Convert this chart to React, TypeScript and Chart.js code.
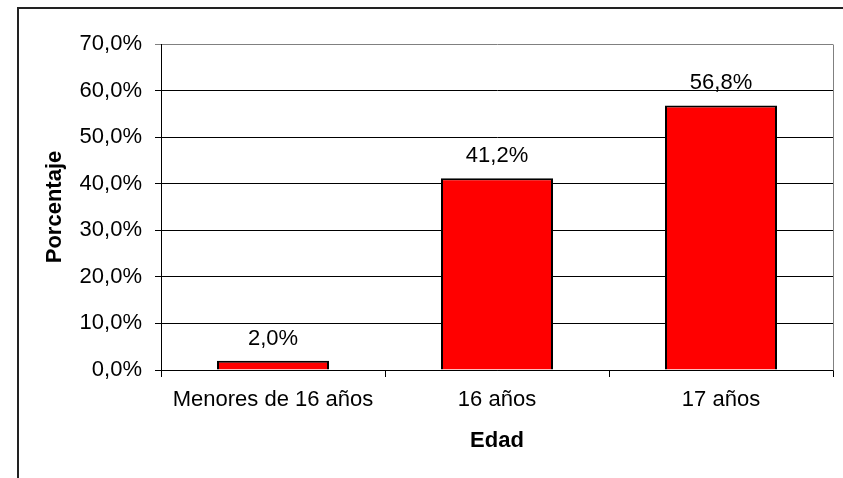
import React, { useEffect, useRef } from "react";
import { Chart, registerables } from "chart.js";

Chart.register(...registerables);

const categories = ["Menores de 16 años", "16 años", "17 años"];
const percentages = [2.0, 41.2, 56.8];
const yMin = 0;
const yMax = 70;
const yStep = 10;
const yTitle = "Porcentaje";
const xTitle = "Edad";

const FONT = "'Liberation Sans', Arial, sans-serif";
const fmt = (v: number) => v.toFixed(1).replace(".", ",") + "%";

const plotFrame = {
  id: "plotFrame",
  beforeDatasetsDraw(chart: any) {
    const { ctx, chartArea } = chart;
    ctx.save();
    ctx.strokeStyle = "#808080";
    ctx.lineWidth = 1;
    const r = Math.round(chartArea.right) + 0.5;
    ctx.beginPath();
    ctx.moveTo(r, Math.round(chartArea.top) + 0.5);
    ctx.lineTo(r, Math.round(chartArea.bottom) + 0.5);
    ctx.stroke();
    ctx.restore();
  },
};

const valueLabels = {
  id: "valueLabels",
  afterDatasetsDraw(chart: any) {
    const { ctx } = chart;
    const meta = chart.getDatasetMeta(0);
    const data = chart.data.datasets[0].data as number[];
    ctx.save();
    ctx.font = `22px ${FONT}`;
    ctx.fillStyle = "#000";
    ctx.textAlign = "center";
    ctx.textBaseline = "alphabetic";
    meta.data.forEach((bar: any, i: number) => {
      ctx.fillText(fmt(data[i]), bar.x, bar.y - 16);
    });
    ctx.restore();
  },
};

export default function App() {
  const ref = useRef<HTMLCanvasElement | null>(null);

  useEffect(() => {
    if (!ref.current) return;
    const chart = new Chart(ref.current, {
      type: "bar",
      data: {
        labels: categories,
        datasets: [
          {
            data: percentages,
            backgroundColor: "#FF0000",
            borderColor: "#000000",
            borderWidth: 2,
            barPercentage: 0.5,
            categoryPercentage: 1.0,
          },
        ],
      },
      options: {
        responsive: false,
        animation: false,
        layout: { padding: { left: 0, top: 44, right: 10, bottom: 0 } },
        plugins: {
          legend: { display: false },
          tooltip: { enabled: false },
        },
        scales: {
          x: {
            afterFit(scale: any) {
              scale.height = 108;
            },
            grid: {
              display: true,
              drawOnChartArea: false,
              drawTicks: true,
              tickLength: 7,
              color: "#000",
              offset: true,
            },
            border: { display: true, color: "#000", width: 1 },
            ticks: {
              color: "#000",
              font: { family: FONT, size: 22 },
              padding: 10,
              maxRotation: 0,
              autoSkip: false,
            },
            title: {
              display: true,
              text: xTitle,
              color: "#000",
              font: { family: FONT, size: 22, weight: "bold" },
              padding: { top: 0, bottom: 24 },
            },
          },
          y: {
            min: yMin,
            max: yMax,
            afterFit(scale: any) {
              scale.width = 161;
            },
            grid: {
              color: (c: any) => (c.tick && c.tick.value === yMax ? "#808080" : "#000"),
              lineWidth: 1,
              drawTicks: true,
              tickLength: 6,
            },
            border: { display: true, color: "#000", width: 1 },
            ticks: {
              stepSize: yStep,
              color: "#000",
              font: { family: FONT, size: 22 },
              padding: 13,
              callback: (v: any) => fmt(Number(v)),
            },
            title: {
              display: true,
              text: yTitle,
              color: "#000",
              font: { family: FONT, size: 22, weight: "bold" },
              padding: { top: 42, bottom: 0 },
            },
          },
        },
      },
      plugins: [plotFrame, valueLabels],
    });
    return () => chart.destroy();
  }, []);

  return (
    <div
      style={{
        position: "fixed",
        left: 0,
        top: 0,
        width: 843,
        height: 478,
        overflow: "hidden",
        background: "#fff",
      }}
    >
      <div
        style={{
          position: "absolute",
          left: 17,
          top: 7,
          width: 900,
          height: 600,
          border: "2px solid #222",
          boxSizing: "border-box",
        }}
      />
      <canvas
        ref={ref}
        width={843}
        height={478}
        style={{ position: "absolute", left: 0, top: 0, width: 843, height: 478 }}
      />
    </div>
  );
}
